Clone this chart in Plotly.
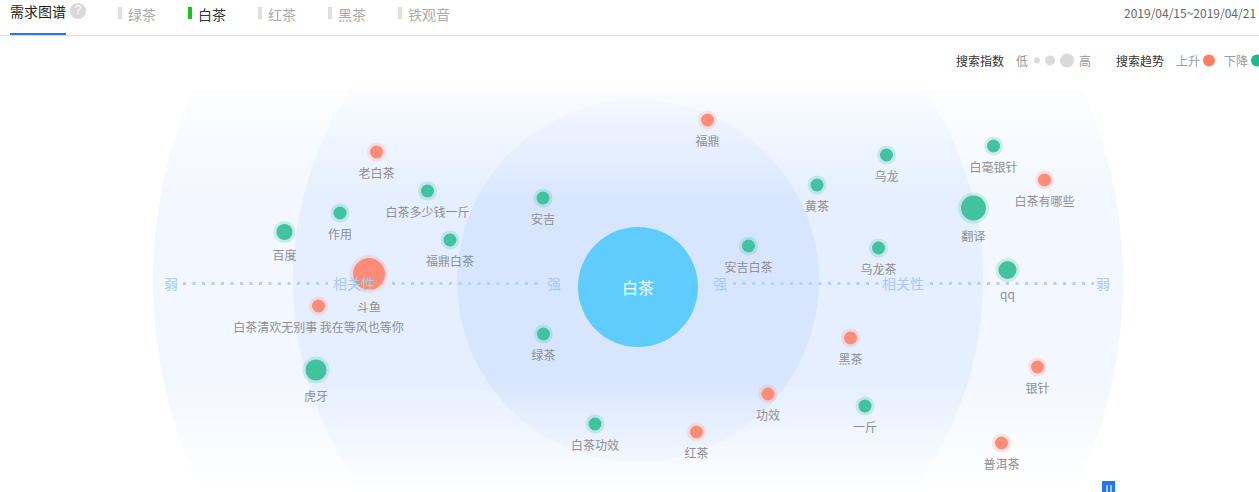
import plotly.graph_objects as go

names = ["福鼎","老白茶","白茶多少钱一斤","作用","百度","福鼎白茶","安吉","黄茶","乌龙","白毫银针","白茶有哪些","翻译","安吉白茶","乌龙茶","qq","斗鱼","白茶清欢无别事 我在等风也等你","虎牙","绿茶","黑茶","银针","功效","一斤","白茶功效","红茶","普洱茶"]
xv = [69.5,-261.5,-210.5,-298,-353.5,-188,-95,179,248.5,355.5,406.5,335.5,110.5,240.5,369.5,-269,-319.5,-322,-94.5,212.5,399.5,130,227,-43,58.5,363.5]
yv = [167,135,96,74,55,47,89,102,132,141,107,79,41,39,17,13,-19,-83,-47,-51,-80,-107,-119,-137,-145,-156]
sizes = [14,14,14,14,17,14,14,14,14,14,14,26,14,14,19,33,14,22,14,14,14,14,14,14,14,14]
trend = ["up","up","down","down","down","down","down","down","down","down","up","down","down","down","down","up","up","down","down","up","up","up","down","down","up","up"]
tabs = ["绿茶","白茶","红茶","黑茶","铁观音"]
tab_x = [142,212,282,352,429]
rings = [485,345,181]
ring_colors = ["#f3f7ff","#e5efff","#d8e6fd"]

UP, DOWN = "#fe8c76", "#41c3a0"
colors = [UP if t == "up" else DOWN for t in trend]
halo = ["rgba(254,120,100,0.17)" if t == "up" else "rgba(40,185,165,0.2)" for t in trend]

fig = go.Figure()
X0, Y0 = 638, 287
def px(x): return x - X0
def py(y): return Y0 - y

shapes = []
RING_Y = py(281)
for r, c in zip(rings, ring_colors):
    shapes.append(dict(type="circle", xref="x", yref="y", x0=-r, x1=r, y0=RING_Y-r, y1=RING_Y+r,
                       fillcolor=c, line_width=0, layer="below"))
# vertical fade of the bands
def strip(y0, y1, op):
    shapes.append(dict(type="rect", xref="x", yref="y", x0=px(0), x1=px(1259), y0=py(y0), y1=py(y1),
                       fillcolor=f"rgba(255,255,255,{op:.3f})", line_width=0, layer="below"))
for i in range(0, 110, 2):
    strip(90 + i, 92 + i, 0.78 * (1 - i / 110))
for i in range(0, 110, 2):
    strip(490 - i, 492 - i, 0.95 * (1 - i / 110))
strip(0, 90, 1)
# dotted axis
for a, b in [(183,328),(392,543),(733,880),(930,1094)]:
    shapes.append(dict(type="line", xref="x", yref="y", x0=px(a), x1=px(b), y0=py(283.5), y1=py(283.5),
                       line=dict(color="#b3d0fc", width=3, dash="3px,6.5px"), layer="below"))
# header
shapes.append(dict(type="line", xref="paper", yref="paper", x0=0, x1=1, y0=1-35.5/492, y1=1-35.5/492,
                   line=dict(color="#e1e1e1", width=1)))
shapes.append(dict(type="rect", xref="paper", yref="paper", x0=10/1259, x1=66/1259, y0=1-35/492, y1=1-33/492,
                   fillcolor="#2577f5", line_width=0))
for n, tx in zip(tabs, tab_x):
    c = "#19c41d" if n == "白茶" else "#e0e0e0"
    left = tx - len(n) * 7 - 10
    shapes.append(dict(type="rect", xref="paper", yref="paper", x0=left/1259, x1=(left+4)/1259,
                       y0=1-19/492, y1=1-7/492, fillcolor=c, line_width=0))
# pause icon
shapes.append(dict(type="rect", xref="x", yref="y", x0=px(1102), x1=px(1115), y0=py(481), y1=py(492),
                   fillcolor="#2277f0", line_width=0))
for a in (1106, 1110):
    shapes.append(dict(type="rect", xref="x", yref="y", x0=px(a), x1=px(a+2), y0=py(485), y1=py(492),
                       fillcolor="#a5c8fa", line_width=0))
fig.update_layout(shapes=shapes)

FONT = "Noto Sans CJK SC"
def label(x, y, t, size=12, color="#8b8b8b", anchor="center"):
    fig.add_annotation(xref="x", yref="y", x=px(x), y=py(y), text=t, showarrow=False,
                       font=dict(family=FONT, size=size, color=color), xanchor=anchor, yanchor="middle",
                       borderpad=0, xshift=-1 if anchor == "left" else 0)

# centre
fig.add_trace(go.Scatter(x=[0], y=[0], mode="markers",
                         marker=dict(size=120, color="#5ecdfd", line_width=0, opacity=1), hoverinfo="skip"))
label(638, 287, "白茶", 16, "#ffffff")
# labels, halos, points
fig.add_trace(go.Scatter(x=xv, y=yv, mode="markers+text", text=names, textposition="bottom center",
                         marker=dict(size=[s + 11 for s in sizes], color="rgba(0,0,0,0)", line_width=0, opacity=1),
                         textfont=dict(family=FONT, size=12, color="#8f8f8f"), hoverinfo="skip"))
fig.add_trace(go.Scatter(x=xv, y=yv, mode="markers",
                         marker=dict(size=[s + 5 for s in sizes], color=halo, line_width=0, opacity=1), hoverinfo="skip"))
fig.add_trace(go.Scatter(x=xv, y=yv, mode="markers",
                         marker=dict(size=[s - 1 for s in sizes], color=colors, line_width=0, opacity=1),
                         customdata=names, hovertemplate="%{customdata}<extra></extra>"))
# legend dots
fig.add_trace(go.Scatter(x=[px(1037), px(1050), px(1067)], y=[py(60.5)]*3, mode="markers",
                         marker=dict(size=[6, 10, 14], color="#d9d9d9", line_width=0, opacity=1), hoverinfo="skip"))
fig.add_trace(go.Scatter(x=[px(1209), px(1257)], y=[py(60.5)]*2, mode="markers", cliponaxis=False,
                         marker=dict(size=12, color=["#fe7e66", "#1fb98f"], line_width=0, opacity=1), hoverinfo="skip"))

for (x, t) in [(171,"弱"),(554,"强"),(720,"强"),(1103,"弱")]:
    label(x, 283, t, 14, "#aac8f8")
label(354, 283, "相关性", 14, "#aac8f8")
label(903, 283, "相关性", 14, "#aac8f8")

label(10, 11, "需求图谱", 14, "#222222", "left")
fig.add_trace(go.Scatter(x=[px(78)], y=[py(11)], mode="markers+text", text=["?"], textposition="middle center",
                         marker=dict(size=16, color="#d9d9d9", line_width=0, opacity=1),
                         textfont=dict(family="Liberation Sans", size=12, color="#ffffff"), hoverinfo="skip"))
for n, tx in zip(tabs, tab_x):
    label(tx, 13.5, n, 14, "#333333" if n == "白茶" else "#aaaaaa")
label(1124, 12.5, "2019/04/15~2019/04/21", 12, "#666666", "left")
label(956, 60, "搜索指数", 12, "#333333", "left")
label(1016, 60, "低", 12, "#999999", "left")
label(1079, 60, "高", 12, "#999999", "left")
label(1116, 60, "搜索趋势", 12, "#333333", "left")
label(1176, 60, "上升", 12, "#999999", "left")
label(1224, 60, "下降", 12, "#999999", "left")

fig.update_layout(width=1259, height=492, margin=dict(l=0, r=0, t=0, b=0), showlegend=False,
                  paper_bgcolor="#ffffff", plot_bgcolor="#ffffff",
                  xaxis=dict(range=[-638, 621], visible=False, fixedrange=True),
                  yaxis=dict(range=[-205, 287], visible=False, fixedrange=True))
fig.write_html("out.html", config=dict(displayModeBar=False),
               post_script="document.body.style.margin='0';document.body.style.overflow='hidden';")
